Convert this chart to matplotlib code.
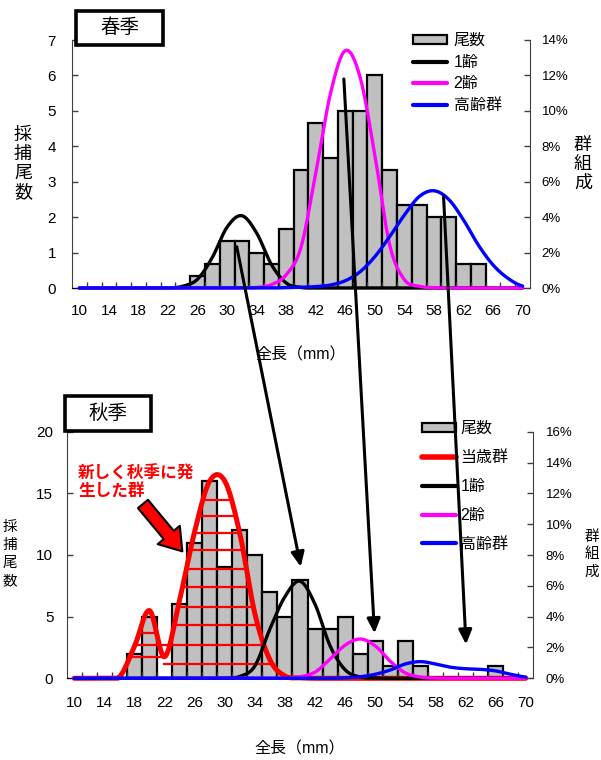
import numpy as np
import matplotlib
matplotlib.use("Agg")
import matplotlib.pyplot as plt
from matplotlib.patches import ConnectionPatch, Patch, Rectangle
from matplotlib.lines import Line2D
from matplotlib.ticker import FuncFormatter

plt.rcParams['font.family'] = ['Liberation Sans', 'Noto Sans CJK JP']

# ---------------- data ----------------
lengths = list(range(10, 71, 2))                      # 全長 (mm) categories
tick_labels = [str(v) for v in range(10, 71, 4)]

# 春季 : 採捕尾数 (left axis) and 群組成 % (right axis)
spring_counts = [0, 0, 0, 0, 0, 0, 0, 0, 0.33, 0.67, 1.33, 1.33, 1.0, 0.67, 1.67,
                 3.33, 4.67, 3.67, 5.0, 5.0, 6.0, 3.33, 2.33, 2.33, 2.0, 2.0, 0.67,
                 0.67, 0, 0, 0]
spring_age1 = [0, 0, 0, 0, 0, 0, 0, 0.1, 0.5, 1.73, 3.44, 4.08, 3.1, 1.32, 0.28,
               0.03, 0, 0, 0, 0, 0, 0, 0, 0, 0, 0, 0, 0, 0, 0, 0]
spring_age2 = [0, 0, 0, 0, 0, 0, 0, 0, 0, 0, 0, 0, 0.03, 0.19, 0.75, 2.3, 6.5,
               11.0, 13.4, 11.9, 7.5, 2.44, 0.47, 0.1, 0.02, 0, 0, 0, 0, 0, 0]
spring_old = [0, 0, 0, 0, 0, 0, 0, 0, 0, 0, 0, 0, 0, 0, 0.02, 0.04, 0.08, 0.17,
              0.41, 0.92, 1.77, 2.9, 4.12, 5.16, 5.49, 5.0, 3.84, 2.43, 1.3, 0.55, 0.11]

# 秋季
autumn_counts = [0, 0, 0, 0, 2, 5, 0, 6, 11, 16, 9, 12, 10, 7, 5, 8, 4, 4, 5, 2,
                 3, 1, 3, 1, 0, 0, 0, 0, 1, 0, 0]
autumn_age0 = [0, 0, 0, 0.08, 2.06, 4.39, 1.4, 5.08, 9.52, 12.8, 12.8, 9.4, 4.2,
               1.2, 0.15, 0.03, 0, 0, 0, 0, 0, 0, 0, 0, 0, 0, 0, 0, 0, 0, 0]
autumn_age1 = [0, 0, 0, 0, 0, 0, 0, 0, 0, 0, 0.02, 0.12, 0.8, 3.2, 5.3, 6.3, 4.8,
               2.1, 0.55, 0.08, 0.02, 0, 0, 0, 0, 0, 0, 0, 0, 0, 0]
autumn_age2 = [0, 0, 0, 0, 0, 0, 0, 0, 0, 0, 0, 0, 0, 0, 0, 0.1, 0.4, 1.25, 2.15,
               2.55, 2.1, 1.1, 0.35, 0.08, 0.01, 0, 0, 0, 0, 0, 0]
autumn_old = [0, 0, 0, 0, 0, 0, 0, 0, 0, 0, 0, 0, 0, 0, 0, 0, 0, 0, 0.03, 0.1,
              0.26, 0.54, 0.93, 1.08, 0.93, 0.72, 0.62, 0.58, 0.48, 0.26, 0.08]

# hand-drawn red hatching inside 当歳群 curve: level (%), search window (mm)
hatch_levels = [11.6, 10.56, 9.44, 8.32, 7.12, 5.92, 4.64, 3.44, 2.16, 0.93, 2.96, 1.4]
hatch_windows = [(22, 40)] * 8 + [(16, 40), (21.9, 40), (16, 22), (16, 21.9)]

# arrows linking spring groups to autumn groups: (x,% in spring) -> (x,% in autumn)
link_from = [(31.3, 2.33), (45.8, 11.8), (59.3, 5.15)]
link_to = [(40.1, 7.24), (49.9, 2.92), (62.06, 2.2)]


def smooth(x, y, n=24):
    """Catmull-Rom smoothing similar to spreadsheet 'smoothed line'."""
    x = np.asarray(x, float)
    y = np.asarray(y, float)
    yp = np.concatenate([[y[0]], y, [y[-1]]])
    xs, ys = [], []
    t = np.linspace(0, 1, n, endpoint=False)
    for i in range(len(x) - 1):
        p0, p1, p2, p3 = yp[i], yp[i + 1], yp[i + 2], yp[i + 3]
        yy = 0.5 * (2 * p1 + (-p0 + p2) * t + (2 * p0 - 5 * p1 + 4 * p2 - p3) * t ** 2
                    + (-p0 + 3 * p1 - 3 * p2 + p3) * t ** 3)
        xs.append(x[i] + (x[i + 1] - x[i]) * t)
        ys.append(yy)
    xs.append([x[-1]])
    ys.append([y[-1]])
    return np.concatenate(xs), np.clip(np.concatenate(ys), 0, None)


W, H = 601, 760
fig = plt.figure(figsize=(W / 100, H / 100), dpi=100)


def px_axes(l, t, r, b):
    return fig.add_axes([l / W, 1 - b / H, (r - l) / W, (b - t) / H])


def setup(ax, ax2, ymax, ystep, y2max, y2step, ypad, y2pad, xpad):
    ax.set_xlim(9, 71)
    ax.set_ylim(0, ymax)
    ax.set_xticks(range(10, 71, 4))
    ax.set_xticklabels(tick_labels)
    ax.set_xticks(range(11, 70, 2), minor=True)
    ax.tick_params(axis='x', which='major', length=0, pad=xpad, labelsize=11)
    ax.tick_params(axis='x', which='minor', direction='in', length=4, width=1,
                   color='#404040')
    ax.set_yticks(np.arange(0, ymax + 1e-9, ystep))
    ax.tick_params(axis='y', direction='in', length=4, width=1, color='#404040',
                   pad=ypad, labelsize=11)
    for s in ['top', 'right']:
        ax.spines[s].set_visible(False)
    ax.spines['left'].set_color('#404040')
    ax.spines['bottom'].set_color('black')
    ax2.set_ylim(0, y2max)
    ax2.set_yticks(np.arange(0, y2max + 1e-9, y2step))
    ax2.yaxis.set_major_formatter(FuncFormatter(lambda v, p: f"{v:.0f}%"))
    ax2.tick_params(axis='y', direction='in', length=4, width=1, color='#404040',
                    pad=y2pad, labelsize=9.5)
    for s in ['top', 'left', 'bottom']:
        ax2.spines[s].set_visible(False)
    ax2.spines['right'].set_color('#404040')


x = np.array(lengths)

# ---------------- spring ----------------
ax1 = px_axes(72, 40, 530, 288)
ax2 = ax1.twinx()
setup(ax1, ax2, 7, 1, 14, 2, ypad=11.5, y2pad=8.4, xpad=11.5)
sc = np.array(spring_counts)
m = sc > 0
ax1.bar(x[m], sc[m], width=2, color='#C0C0C0', edgecolor='black', linewidth=1.6)
for vals, col in [(spring_age1, 'black'), (spring_age2, '#FF00FF'), (spring_old, '#0000FF')]:
    xs, ys = smooth(x, vals)
    ax2.plot(xs, ys, color=col, lw=2.4, solid_capstyle='round', clip_on=False)

h_top = [Patch(fc='#C0C0C0', ec='black', lw=1.6),
         Line2D([], [], color='black', lw=3, solid_capstyle='round'),
         Line2D([], [], color='#FF00FF', lw=3, solid_capstyle='round'),
         Line2D([], [], color='#0000FF', lw=3, solid_capstyle='round')]
ax2.legend(h_top, ['尾数', '1齢', '2齢', '高齢群'], loc='upper left',
           bbox_to_anchor=(413 / W, 1 - 33 / H), bbox_transform=fig.transFigure,
           frameon=False, borderpad=0, borderaxespad=0, handlelength=2.1,
           handleheight=0.5, handletextpad=0.45, labelspacing=0.42, fontsize=11.5)

ax1.set_xlabel('全長（mm）', fontsize=11.5, labelpad=21)
fig.text(23 / W, 1 - 164 / H, '採\n捕\n尾\n数', ha='center', va='center', fontsize=13,
         linespacing=1.15)
fig.text(583 / W, 1 - 164 / H, '群\n組\n成', ha='center', va='center', fontsize=13,
         linespacing=1.15)

# ---------------- autumn ----------------
ax3 = px_axes(66.7, 431.7, 533.3, 678.3)
ax4 = ax3.twinx()
setup(ax3, ax4, 20, 5, 16, 2, ypad=9.6, y2pad=8.9, xpad=13)
ac = np.array(autumn_counts)
m = ac > 0
ax3.bar(x[m], ac[m], width=2, color='#C0C0C0', edgecolor='black', linewidth=1.6)

# red hatching inside 当歳群 curve
xs0, ys0 = smooth(x, autumn_age0, n=60)
for lev, (w0, w1) in zip(hatch_levels, hatch_windows):
    sel = (xs0 >= w0) & (xs0 <= w1) & (ys0 >= lev)
    if sel.any():
        ax4.plot([xs0[sel].min(), xs0[sel].max()], [lev, lev], color='#FF0000', lw=1.6)

ax4.plot(xs0, ys0, color='#FF0000', lw=3.6, solid_capstyle='round', clip_on=False)
for vals, col in [(autumn_age1, 'black'), (autumn_age2, '#FF00FF'), (autumn_old, '#0000FF')]:
    xs, ys = smooth(x, vals)
    ax4.plot(xs, ys, color=col, lw=2.4, solid_capstyle='round', clip_on=False)

h_bot = [Patch(fc='#C0C0C0', ec='black', lw=1.6),
         Line2D([], [], color='#FF0000', lw=4, solid_capstyle='round'),
         Line2D([], [], color='black', lw=3, solid_capstyle='round'),
         Line2D([], [], color='#FF00FF', lw=3, solid_capstyle='round'),
         Line2D([], [], color='#0000FF', lw=3, solid_capstyle='round')]
ax4.legend(h_bot, ['尾数', '当歳群', '1齢', '2齢', '高齢群'], loc='upper left',
           bbox_to_anchor=(422 / W, 1 - 421 / H), bbox_transform=fig.transFigure,
           frameon=False, borderpad=0, borderaxespad=0, handlelength=2.1,
           handleheight=0.5, handletextpad=0.3, labelspacing=0.87, fontsize=11.5)

ax3.set_xlabel('全長（mm）', fontsize=11.5, labelpad=22)
fig.text(10 / W, 1 - 554 / H, '採\n捕\n尾\n数', ha='center', va='center', fontsize=10.5,
         linespacing=1.35)
fig.text(592 / W, 1 - 554 / H, '群\n組\n成', ha='center', va='center', fontsize=10.5,
         linespacing=1.3)

# annotation text and red arrow
fig.text(78 / W, 1 - 465 / H, '新しく秋季に発\n生した群', color='#FF0000', fontsize=12,
         fontweight='bold', ha='left', va='top', linespacing=1.15)
ax4.annotate('', xy=(24.6, 8.1), xytext=(18.9, 11.45),
             arrowprops=dict(arrowstyle='simple,head_length=0.85,head_width=1.15,tail_width=0.52',
                             mutation_scale=18, fc='#FF0000', ec='black', lw=1.5))

# season title boxes
for (l, t, r, b, txt) in [(76, 11, 163, 45, '春季'), (65, 396, 150.7, 430.7, '秋季')]:
    fig.add_artist(Rectangle((l / W, 1 - b / H), (r - l) / W, (b - t) / H,
                             transform=fig.transFigure, fc='white', ec='black', lw=2.6,
                             zorder=5))
    fig.text((l + r) / 2 / W, 1 - (t + b) / 2 / H, txt, ha='center', va='center',
             fontsize=14, zorder=6)

# linking arrows
for a, b in zip(link_from, link_to):
    con = ConnectionPatch(xyA=a, coordsA=ax2.transData, xyB=b, coordsB=ax4.transData,
                          arrowstyle='-|>,head_length=0.72,head_width=0.33',
                          mutation_scale=12, lw=2.2, color='black', zorder=10)
    fig.add_artist(con)

fig.savefig('out.png', dpi=100)
